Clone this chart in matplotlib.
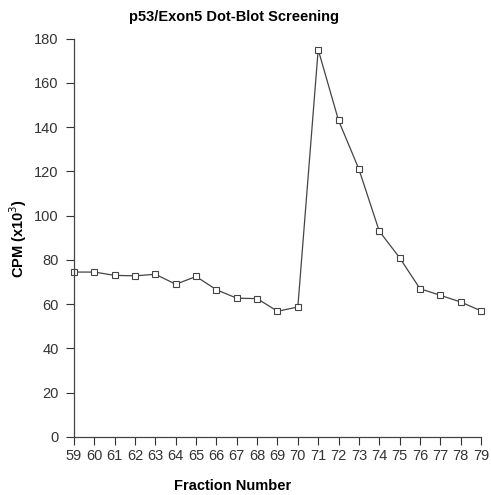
import matplotlib

matplotlib.use("Agg")
import matplotlib.pyplot as plt

# Data
fractions = list(range(59, 80))
cpm = [74.5, 74.5, 73.0, 72.8, 73.5, 69.0, 72.5, 66.5, 62.7, 62.5, 56.8,
       58.7, 175.0, 143.0, 121.0, 93.0, 81.0, 67.0, 64.0, 61.0, 57.0]
y_ticks = list(range(0, 181, 20))

plt.rcParams["font.family"] = ["Liberation Sans", "DejaVu Sans"]

fig = plt.figure(figsize=(4.91, 4.95), dpi=100)
ax = fig.add_axes([0.1507, 0.1172, 0.8289, 0.805])

ax.plot(fractions, cpm, color="#444444", linewidth=0.9, marker="s",
        markersize=5, markerfacecolor="white", markeredgecolor="#444444",
        markeredgewidth=0.8, clip_on=False)

ax.set_xlim(59, 79)
ax.set_ylim(0, 180)
ax.set_xticks(fractions)
ax.set_yticks(y_ticks)
ax.tick_params(axis="both", direction="out", length=6, width=0.8,
               colors="#333333", labelsize=10.5)
ax.tick_params(axis="y", pad=5)
ax.tick_params(axis="x", pad=3)
for side in ("top", "right"):
    ax.spines[side].set_visible(False)
for side in ("left", "bottom"):
    ax.spines[side].set_color("#444444")
    ax.spines[side].set_linewidth(0.9)

fig.text(234 / 491, 1 - 17 / 495, "p53/Exon5 Dot-Blot Screening",
         ha="center", va="center", fontsize=10.5, fontweight="bold")
fig.text(233 / 491, 1 - 486 / 495, "Fraction Number",
         ha="center", va="center", fontsize=10.5, fontweight="bold")
fig.text(18 / 491, 1 - 238 / 495, "CPM (x10$^3$)", rotation=90,
         ha="center", va="center", fontsize=10.5, fontweight="bold")

fig.savefig("out.png", dpi=100)
